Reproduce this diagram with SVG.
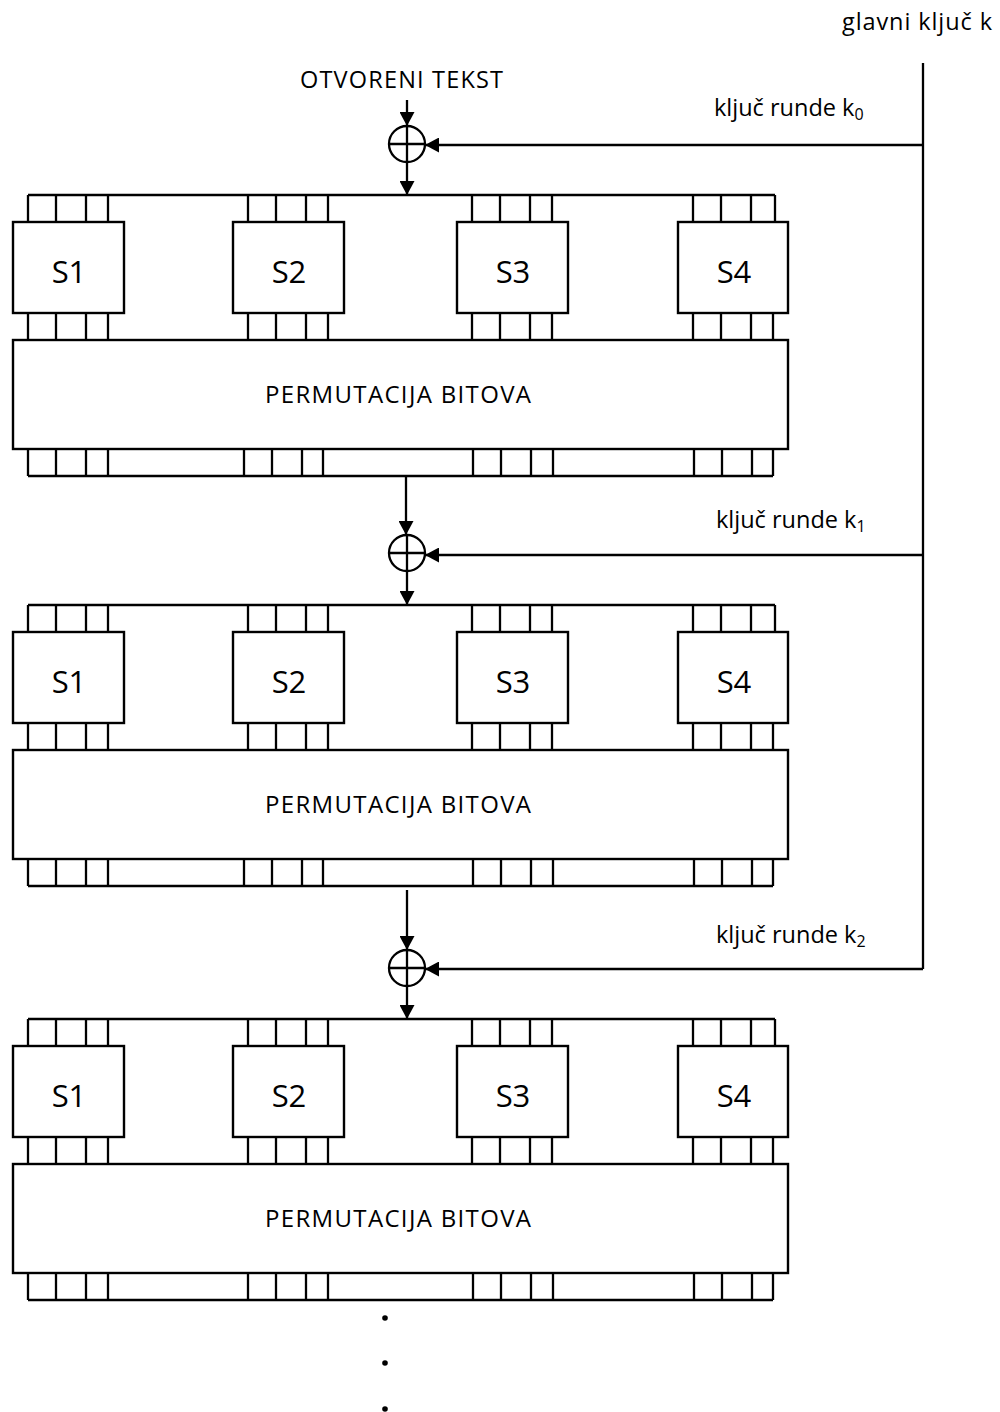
<svg xmlns="http://www.w3.org/2000/svg" xmlns:xlink="http://www.w3.org/1999/xlink" width="1000" height="1412" viewBox="0 0 1000 1412">
<style>
.ln{stroke:#000;stroke-width:2.3;fill:none}
.bx{stroke:#000;stroke-width:2.4;fill:#fff}
.t{font-family:"Open Sans","Liberation Sans",sans-serif;fill:#000}
.sb{font-size:31px;text-anchor:middle}
.pm{font-size:24px}
.lb{font-size:23.5px}
.sub{font-size:16px}
</style>
<defs>
<marker id="ah" viewBox="0 0 14 15" refX="14" refY="7.5" markerWidth="14" markerHeight="15" markerUnits="userSpaceOnUse" orient="auto">
<path d="M0,0 L14,7.5 L0,15 z" fill="#000"/>
</marker>
</defs>
<rect x="0" y="0" width="1000" height="1412" fill="#fff"/>

<!-- texts -->
<text id="glavni" class="t lb" x="842" y="30" textLength="150" lengthAdjust="spacing">glavni ključ k</text>
<text id="otvoreni" class="t lb" x="300" y="88" textLength="203" lengthAdjust="spacing">OTVORENI TEKST</text>
<text id="k0" class="t lb" x="714" y="116">ključ runde k<tspan class="sub" dy="4">0</tspan></text>
<text id="k1" class="t lb" x="716" y="528">ključ runde k<tspan class="sub" dy="4">1</tspan></text>
<text id="k2" class="t lb" x="716" y="943">ključ runde k<tspan class="sub" dy="4">2</tspan></text>

<!-- Round 1 -->
<g id="round1">
<g id="r1-bus-in" class="ln">
<path d="M28,195 H775"/>
<path d="M28,195 V222 M56,195 V222 M86,195 V222 M108,195 V222"/>
<path d="M248,195 V222 M276,195 V222 M306,195 V222 M328,195 V222"/>
<path d="M472,195 V222 M500,195 V222 M530,195 V222 M552,195 V222"/>
<path d="M693,195 V222 M721,195 V222 M751,195 V222 M775,195 V222"/>
<path d="M28,313 V340 M56,313 V340 M86,313 V340 M108,313 V340"/>
<path d="M248,313 V340 M276,313 V340 M306,313 V340 M328,313 V340"/>
<path d="M472,313 V340 M500,313 V340 M530,313 V340 M552,313 V340"/>
<path d="M693,313 V340 M721,313 V340 M751,313 V340 M773,313 V340"/>
</g>
<g id="r1-s1"><rect class="bx" x="13" y="222" width="111" height="91"/><text class="t sb" x="69" y="283">S1</text></g>
<g id="r1-s2"><rect class="bx" x="233" y="222" width="111" height="91"/><text class="t sb" x="289" y="283">S2</text></g>
<g id="r1-s3"><rect class="bx" x="457" y="222" width="111" height="91"/><text class="t sb" x="513" y="283">S3</text></g>
<g id="r1-s4"><rect class="bx" x="678" y="222" width="110" height="91"/><text class="t sb" x="734" y="283">S4</text></g>
<g id="r1-perm"><rect class="bx" x="13" y="340" width="775" height="109"/><text class="t pm" x="398" y="403" text-anchor="middle" textLength="266" lengthAdjust="spacing">PERMUTACIJA BITOVA</text></g>
<g id="r1-bus-out" class="ln">
<path d="M28,476 H773"/>
<path d="M28,449 V476 M56,449 V476 M86,449 V476 M108,449 V476"/>
<path d="M244,449 V476 M272,449 V476 M302,449 V476 M323,449 V476"/>
<path d="M473,449 V476 M501,449 V476 M531,449 V476 M553,449 V476"/>
<path d="M694,449 V476 M722,449 V476 M752,449 V476 M773,449 V476"/>
</g>
</g>

<!-- Round 2 -->
<g id="round2">
<g id="r2-bus-in" class="ln">
<path d="M28,605 H775"/>
<path d="M28,605 V632 M56,605 V632 M86,605 V632 M108,605 V632"/>
<path d="M248,605 V632 M276,605 V632 M306,605 V632 M328,605 V632"/>
<path d="M472,605 V632 M500,605 V632 M530,605 V632 M552,605 V632"/>
<path d="M693,605 V632 M721,605 V632 M751,605 V632 M775,605 V632"/>
<path d="M28,723 V750 M56,723 V750 M86,723 V750 M108,723 V750"/>
<path d="M248,723 V750 M276,723 V750 M306,723 V750 M328,723 V750"/>
<path d="M472,723 V750 M500,723 V750 M530,723 V750 M552,723 V750"/>
<path d="M693,723 V750 M721,723 V750 M751,723 V750 M773,723 V750"/>
</g>
<g id="r2-s1"><rect class="bx" x="13" y="632" width="111" height="91"/><text class="t sb" x="69" y="693">S1</text></g>
<g id="r2-s2"><rect class="bx" x="233" y="632" width="111" height="91"/><text class="t sb" x="289" y="693">S2</text></g>
<g id="r2-s3"><rect class="bx" x="457" y="632" width="111" height="91"/><text class="t sb" x="513" y="693">S3</text></g>
<g id="r2-s4"><rect class="bx" x="678" y="632" width="110" height="91"/><text class="t sb" x="734" y="693">S4</text></g>
<g id="r2-perm"><rect class="bx" x="13" y="750" width="775" height="109"/><text class="t pm" x="398" y="813" text-anchor="middle" textLength="266" lengthAdjust="spacing">PERMUTACIJA BITOVA</text></g>
<g id="r2-bus-out" class="ln">
<path d="M28,886 H773"/>
<path d="M28,859 V886 M56,859 V886 M86,859 V886 M108,859 V886"/>
<path d="M244,859 V886 M272,859 V886 M302,859 V886 M323,859 V886"/>
<path d="M473,859 V886 M501,859 V886 M531,859 V886 M553,859 V886"/>
<path d="M694,859 V886 M722,859 V886 M752,859 V886 M773,859 V886"/>
</g>
</g>

<!-- Round 3 -->
<g id="round3">
<g id="r3-bus-in" class="ln">
<path d="M28,1019 H775"/>
<path d="M28,1019 V1046 M56,1019 V1046 M86,1019 V1046 M108,1019 V1046"/>
<path d="M248,1019 V1046 M276,1019 V1046 M306,1019 V1046 M328,1019 V1046"/>
<path d="M472,1019 V1046 M500,1019 V1046 M530,1019 V1046 M552,1019 V1046"/>
<path d="M693,1019 V1046 M721,1019 V1046 M751,1019 V1046 M775,1019 V1046"/>
<path d="M28,1137 V1164 M56,1137 V1164 M86,1137 V1164 M108,1137 V1164"/>
<path d="M248,1137 V1164 M276,1137 V1164 M306,1137 V1164 M328,1137 V1164"/>
<path d="M472,1137 V1164 M500,1137 V1164 M530,1137 V1164 M552,1137 V1164"/>
<path d="M693,1137 V1164 M721,1137 V1164 M751,1137 V1164 M773,1137 V1164"/>
</g>
<g id="r3-s1"><rect class="bx" x="13" y="1046" width="111" height="91"/><text class="t sb" x="69" y="1107">S1</text></g>
<g id="r3-s2"><rect class="bx" x="233" y="1046" width="111" height="91"/><text class="t sb" x="289" y="1107">S2</text></g>
<g id="r3-s3"><rect class="bx" x="457" y="1046" width="111" height="91"/><text class="t sb" x="513" y="1107">S3</text></g>
<g id="r3-s4"><rect class="bx" x="678" y="1046" width="110" height="91"/><text class="t sb" x="734" y="1107">S4</text></g>
<g id="r3-perm"><rect class="bx" x="13" y="1164" width="775" height="109"/><text class="t pm" x="398" y="1227" text-anchor="middle" textLength="266" lengthAdjust="spacing">PERMUTACIJA BITOVA</text></g>
<g id="r3-bus-out" class="ln">
<path d="M28,1300 H773"/>
<path d="M28,1273 V1300 M56,1273 V1300 M86,1273 V1300 M108,1273 V1300"/>
<path d="M248,1273 V1300 M276,1273 V1300 M306,1273 V1300 M328,1273 V1300"/>
<path d="M473,1273 V1300 M501,1273 V1300 M531,1273 V1300 M553,1273 V1300"/>
<path d="M694,1273 V1300 M722,1273 V1300 M752,1273 V1300 M773,1273 V1300"/>
</g>
</g>

<!-- XOR nodes -->
<g id="xor1" class="ln"><circle cx="407" cy="144" r="18"/><path d="M389,144 H425 M407,126 V162"/></g>
<g id="xor2" class="ln"><circle cx="407" cy="553" r="18"/><path d="M389,553 H425 M407,535 V571"/></g>
<g id="xor3" class="ln"><circle cx="407" cy="968" r="18"/><path d="M389,968 H425 M407,950 V986"/></g>

<!-- connectors -->
<g id="connectors" class="ln">
<path d="M923,63 V969"/>
<path d="M407,100 V126" marker-end="url(#ah)"/>
<path d="M407,162 V195" marker-end="url(#ah)"/>
<path d="M923,145 H425" marker-end="url(#ah)"/>
<path d="M406,477 V535" marker-end="url(#ah)"/>
<path d="M407,571 V605" marker-end="url(#ah)"/>
<path d="M923,555 H425" marker-end="url(#ah)"/>
<path d="M407,890 V950" marker-end="url(#ah)"/>
<path d="M407,986 V1019" marker-end="url(#ah)"/>
<path d="M923,969 H425" marker-end="url(#ah)"/>
</g>

<!-- continuation dots -->
<g id="dots" fill="#000">
<circle cx="385" cy="1318" r="2.8"/>
<circle cx="385" cy="1363" r="2.8"/>
<circle cx="385" cy="1409" r="2.8"/>
</g>
</svg>
